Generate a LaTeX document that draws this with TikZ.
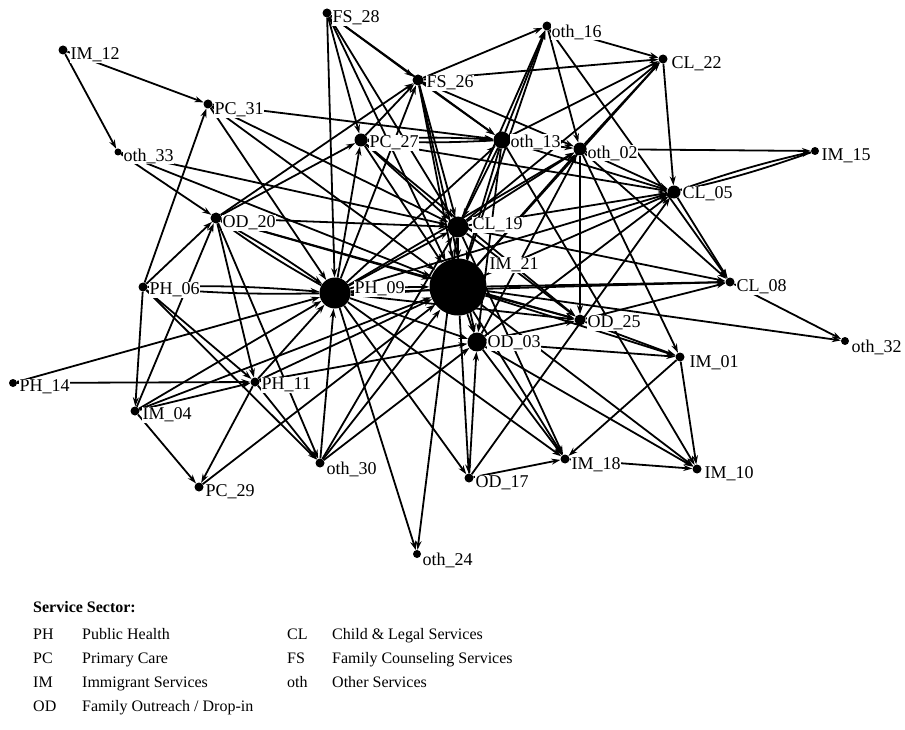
\documentclass[tikz,border=0pt]{standalone}
\usepackage{fontspec}
\setmainfont{Liberation Serif}
\usetikzlibrary{arrows.meta}
\begin{document}
\begin{tikzpicture}[x=1pt,y=-1pt,
  dot/.style={circle,fill,inner sep=0pt,minimum size=#1},
  lbl/.style={anchor=west,fill=white,inner sep=0.5pt,font=\fontsize{18}{18}\selectfont},
  leg/.style={anchor=base west,inner sep=0pt,font=\fontsize{16}{16}\selectfont},
  tie/.style={line width=1.8pt,-{Stealth[length=9pt,width=6pt]}}]
\useasboundingbox (0,0) rectangle (905,730);
% vertices
\node[dot=9pt] (im12) at (63,50) {};
\node[dot=9pt] (fs28) at (327,13) {};
\node[dot=9pt] (pc31) at (208,104) {};
\node[dot=7pt] (oth33) at (118,152) {};
\node[dot=11pt] (fs26) at (418,80) {};
\node[dot=13pt] (pc27) at (361,140) {};
\node[dot=9pt] (oth16) at (547,26) {};
\node[dot=9pt] (cl22) at (663,59) {};
\node[dot=17pt] (oth13) at (502,140) {};
\node[dot=13pt] (oth02) at (580,149) {};
\node[dot=8pt] (im15) at (815,151) {};
\node[dot=13pt] (cl05) at (674,192) {};
\node[dot=21pt] (cl19) at (458,227) {};
\node[dot=11pt] (od20) at (216,218) {};
\node[dot=9pt] (ph06) at (143,287) {};
\node[dot=31pt] (ph09) at (335,293) {};
\node[dot=57pt] (im21) at (458,287) {};
\node[dot=9pt] (cl08) at (730,282) {};
\node[dot=11pt] (od25) at (580,320) {};
\node[dot=19pt] (od03) at (477,342) {};
\node[dot=8pt] (oth32) at (845,341) {};
\node[dot=9pt] (im01) at (680,357) {};
\node[dot=8pt] (ph14) at (13,383) {};
\node[dot=9pt] (ph11) at (255,382) {};
\node[dot=9pt] (im04) at (135,411) {};
\node[dot=9pt] (oth30) at (320,463) {};
\node[dot=9pt] (pc29) at (199,487) {};
\node[dot=9pt] (od17) at (469,478) {};
\node[dot=9pt] (im18) at (565,459) {};
\node[dot=9pt] (im10) at (697,469) {};
\node[dot=8pt] (oth24) at (417,554) {};
% ties
\foreach \a/\b in {im12/pc31,im12/oth33,ph06/pc31,pc31/oth13,pc31/ph09,pc31/cl19,pc31/im21,
  oth33/od20,oth33/cl19,oth33/im21,fs28/ph09,fs28/fs26,fs28/pc27,fs28/cl19,fs28/oth13,fs28/im21,
  od20/fs26,od20/pc27,od20/cl19,od20/im21,od20/od25,od20/oth30,od20/ph11,
  ph06/od20,im04/od20,ph06/im04,ph06/oth30,ph06/ph11,
  im04/ph11,im04/ph09,im04/im21,im04/pc29,ph14/ph11,ph14/ph09,
  ph11/ph09,ph11/im21,ph11/od03,ph11/pc29,ph11/oth30,
  oth30/ph09,oth30/cl19,oth30/od03,oth30/im21,pc29/im21,ph09/oth24,cl19/oth24}
  \draw[tie] (\a) -- (\b);
\foreach \a/\b in {ph09/pc27,ph09/fs26,ph09/cl19,ph09/oth13,ph09/oth02,ph09/od25,
  ph09/od03,ph09/cl08,ph09/im18,ph09/od17,ph09/cl05,
  fs26/oth16,fs26/cl22,fs26/oth13,fs26/cl19,fs26/im21,fs26/od03,fs26/oth02,
  pc27/cl19,pc27/im21,pc27/od25,pc27/cl05,pc27/fs26,
  cl19/oth16,im21/oth16,oth13/oth16,oth16/cl22,oth16/oth02,oth16/cl08,
  oth13/cl22,oth13/oth02,oth13/cl19,oth13/im21,oth13/od03,oth13/cl05,oth13/im10}
  \draw[tie] (\a) -- (\b);
\foreach \a/\b in {oth02/cl22,oth02/im15,oth02/cl05,oth02/od25,oth02/cl08,oth02/im01,
  cl22/cl05,cl19/cl22,im21/cl22,cl19/oth02,im21/oth02,od03/oth02,
  cl19/cl05,im21/cl05,od03/cl05,od17/cl05,
  cl05/cl08,cl19/cl08,im21/cl08,od25/cl08,cl08/oth32,im21/oth32,
  cl19/im21,im21/od25,cl19/od25,od03/od25,im21/od03,im21/od17,od17/od03,
  im21/im01,od25/im01,od03/im01,im21/im18,od03/im18,im01/im18,od17/im18,
  im18/im10,im01/im10,od03/im10,im21/im10,cl19/im18}
  \draw[tie] (\a) -- (\b);
% reciprocal pairs
\foreach \a/\b in {ph06/ph09,ph09/ph06,pc27/oth13,oth13/pc27,cl05/im15,im15/cl05,
  ph09/im21,im21/ph09,od20/ph09,ph09/od20}
  \draw[tie] (\a) to[bend left=3] (\b);
% labels
\node[lbl] (tim12) at (70,55) {IM\_12};
\node[lbl] (tfs28) at (332,18) {FS\_28};
\node[lbl] (tpc31) at (214,110) {PC\_31};
\node[lbl] (toth33) at (123,156) {oth\_33};
\node[lbl] (tfs26) at (426,83) {FS\_26};
\node[lbl] (tpc27) at (369,143) {PC\_27};
\node[lbl] (toth16) at (551,32) {oth\_16};
\node[lbl] (tcl22) at (671,64) {CL\_22};
\node[lbl] (toth13) at (510,142) {oth\_13};
\node[lbl] (toth02) at (587,153) {oth\_02};
\node[lbl] (tim15) at (821,156) {IM\_15};
\node[lbl] (tcl05) at (682,194) {CL\_05};
\node[lbl] (tcl19) at (472,225) {CL\_19};
\node[lbl] (tod20) at (222,223) {OD\_20};
\node[lbl] (tph06) at (149,290) {PH\_06};
\node[lbl] (tph09) at (354,289) {PH\_09};
\node[lbl] (tim21) at (489,265) {IM\_21};
\node[lbl] (tcl08) at (736,287) {CL\_08};
\node[lbl] (tod25) at (587,323) {OD\_25};
\node[lbl] (tod03) at (487,343) {OD\_03};
\node[lbl] (toth32) at (851,347) {oth\_32};
\node[lbl] (tim01) at (689,363) {IM\_01};
\node[lbl] (tph14) at (19,387) {PH\_14};
\node[lbl] (tph11) at (261,385) {PH\_11};
\node[lbl] (tim04) at (142,415) {IM\_04};
\node[lbl] (toth30) at (326,469) {oth\_30};
\node[lbl] (tpc29) at (205,492) {PC\_29};
\node[lbl] (tod17) at (475,483) {OD\_17};
\node[lbl] (tim18) at (571,465) {IM\_18};
\node[lbl] (tim10) at (704,474) {IM\_10};
\node[lbl] (toth24) at (422,560) {oth\_24};
% legend
\node[leg,font=\fontsize{16}{16}\selectfont\bfseries] (lhead) at (33,612) {Service Sector:};
\node[leg] (lph) at (33,639) {PH};
\node[leg] (dph) at (82,639) {Public Health};
\node[leg] (lpc) at (33,663) {PC};
\node[leg] (dpc) at (82,663) {Primary Care};
\node[leg] (lim) at (33,687) {IM};
\node[leg] (dim) at (82,687) {Immigrant Services};
\node[leg] (lod) at (33,711) {OD};
\node[leg] (dod) at (82,711) {Family Outreach / Drop-in};
\node[leg] (lcl) at (287,639) {CL};
\node[leg] (dcl) at (332,639) {Child \& Legal Services};
\node[leg] (lfs) at (287,663) {FS};
\node[leg] (dfs) at (332,663) {Family Counseling Services};
\node[leg] (loth) at (287,687) {oth};
\node[leg] (doth) at (332,687) {Other Services};
\end{tikzpicture}
\end{document}
